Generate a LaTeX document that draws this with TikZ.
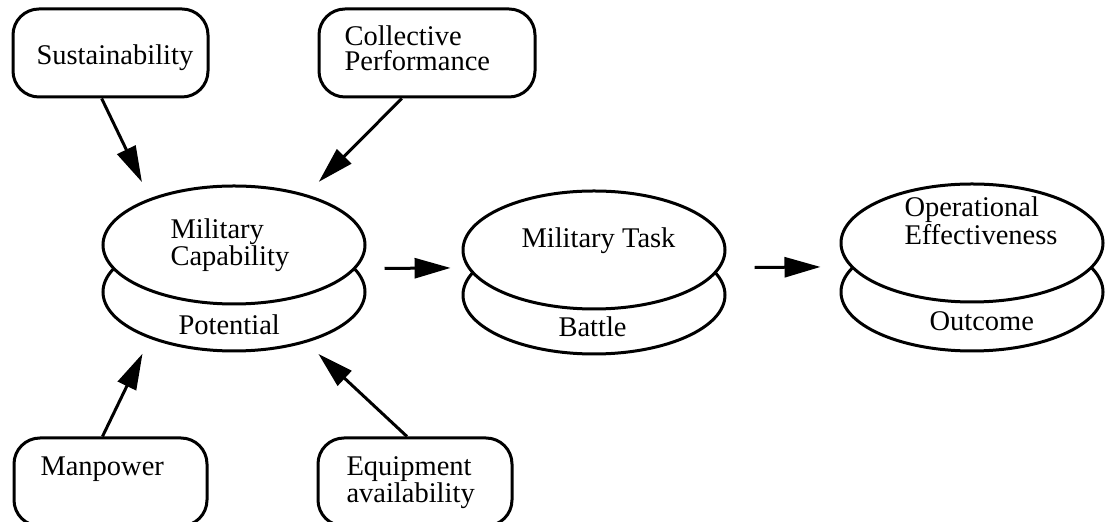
\documentclass[tikz,border=0pt]{standalone}
\usepackage{fontspec}
\setmainfont{Liberation Serif}
\usetikzlibrary{arrows.meta,shapes.geometric}

\begin{document}
\begin{tikzpicture}[x=0.5pt,y=-0.5pt,line width=1.5pt,
                    >={Triangle[length=18pt,width=10pt]},
                    box node/.style={draw,rounded corners=13pt,inner sep=0pt},
                    disc node/.style={ellipse,draw,fill=white,inner sep=0pt,
                                      minimum width=131pt,minimum height=59pt},
                    txt node/.style={anchor=base west,align=left,inner sep=0pt,
                                     font=\fontsize{14.25}{12.6}\selectfont}]

  \useasboundingbox (0,0) rectangle (1108,522);

  % input boxes
  \node[box node,minimum width=97.5pt,minimum height=44pt] (sust) at (110.5,53) {};
  \node[box node,minimum width=108pt,minimum height=44pt] (coll) at (427,53) {};
  \node[box node,minimum width=96.5pt,minimum height=44pt] (man) at (110.5,482) {};
  \node[box node,minimum width=97pt,minimum height=44pt] (equip) at (415,482) {};

  % stacked ellipses, lower one first
  \node[disc node] (cap-low) at (234,292) {};
  \node[disc node] (cap) at (234,245) {};
  \node[disc node] (task-low) at (594,295) {};
  \node[disc node] (task) at (594,250) {};
  \node[disc node] (op-low) at (972,292) {};
  \node[disc node] (op) at (972,243) {};

  % texts (base = last line)
  \node[txt node] (sust-t) at (35,65) {Sustainability};
  \node[txt node] (coll-t) at (343,71) {Collective\\Performance};
  \node[txt node] (man-t) at (39,476) {Manpower};
  \node[txt node] (equip-t) at (345,503) {Equipment\\availability};
  \node[txt node] (cap-t) at (169,266) {Military\\Capability};
  \node[txt node] (task-t) at (520,248) {Military Task};
  \node[txt node] (op-t) at (903,245) {Operational\\Effectiveness};
  \node[txt node] (pot-t) at (177,335) {Potential};
  \node[txt node] (bat-t) at (557,337) {Battle};
  \node[txt node] (out-t) at (928,331) {Outcome};

  \path[->]
    (sust.259) edge [shorten >=9pt] (cap.151)
    (coll.241) edge [shorten >=8.8pt] (cap.35)
    (man.100) edge [shorten >=8.3pt] (cap-low.209)
    (equip.100) edge [shorten >=8.2pt] (cap-low.-35)

    (cap.-11) edge [shorten <=14.3pt,shorten >=8.4pt] (task.188)
    (task.-8) edge [shorten <=17pt,shorten >=14.8pt] (op.191)
;
\end{tikzpicture}
\end{document}
